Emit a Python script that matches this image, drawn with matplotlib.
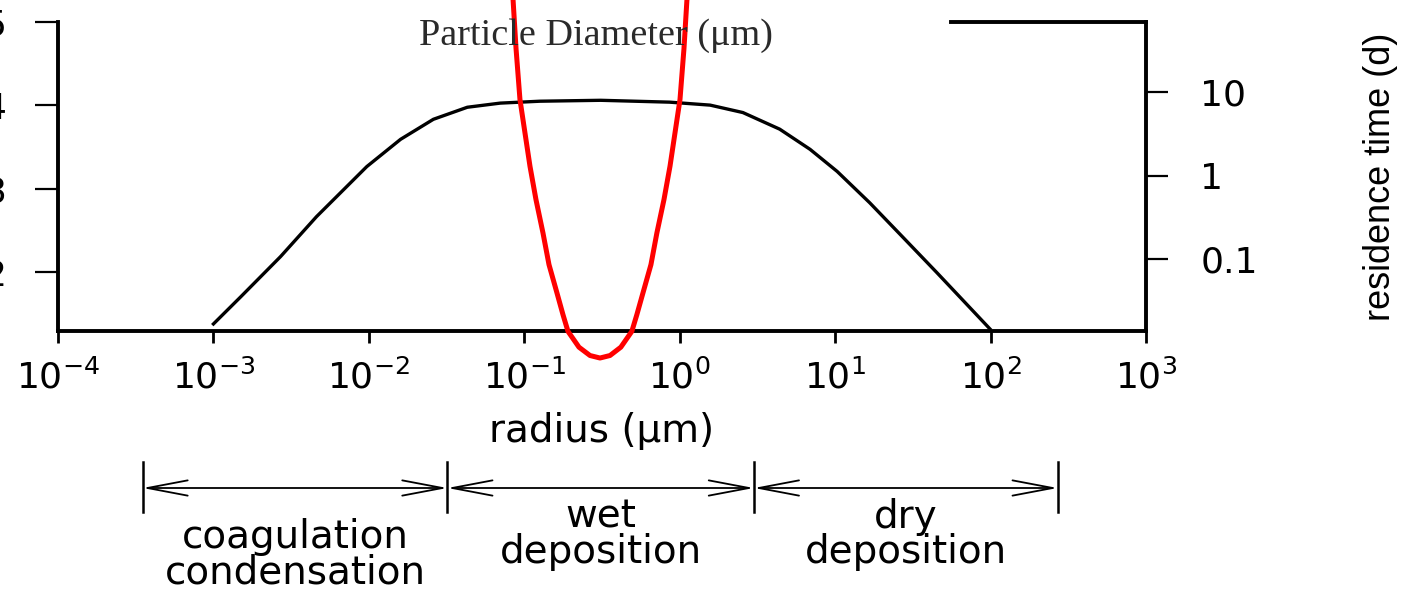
import matplotlib.pyplot as plt
import numpy as np
from matplotlib.ticker import NullLocator, FixedLocator, FixedFormatter
from matplotlib.transforms import blended_transform_factory

# residence time of aerosol particles (right axis, days)
radius_um = [1.0e-3, 1.5e-3, 2.7e-3, 4.6e-3, 9.7e-3, 1.6e-2, 2.6e-2, 4.3e-2, 7.0e-2,
             0.126, 0.31, 0.86, 1.57, 2.55, 4.4, 6.9, 10.3, 16.7, 27.4, 45.2, 99.0]
residence_days = [0.0165, 0.035, 0.106, 0.32, 1.28, 2.72, 4.73, 6.6, 7.4,
                  7.8, 8.0, 7.6, 7.0, 5.7, 3.6, 2.06, 1.12, 0.47, 0.18, 0.068, 0.0144]

# red curve (left axis)
red_radius = [0.0846, 0.0885, 0.0938, 0.1088, 0.1189, 0.1319, 0.1442, 0.1623, 0.1774,
              0.191, 0.2248, 0.2647, 0.307, 0.356, 0.418, 0.492, 0.530, 0.580,
              0.653, 0.713, 0.792, 0.866, 1.004, 1.065, 1.114]
red_value = [5.28, 4.68, 4.07, 3.27, 2.87, 2.47, 2.09, 1.75, 1.49,
             1.29, 1.10, 1.00, 0.97, 1.00, 1.10, 1.29, 1.49, 1.75,
             2.09, 2.47, 2.87, 3.27, 4.07, 4.68, 5.28]

# process ranges below the axis
range_bounds = [3.5e-4, 3.2e-2, 3.0, 2.7e2]
range_labels = [("coagulation", "condensation"), ("wet", "deposition"), ("dry", "deposition")]

left_ticks = [2, 3, 4, 5]
right_ticks = [0.1, 1, 10]
right_ticklabels = ["0.1", "1", "10"]

plt.rcParams['font.family'] = ['DejaVu Sans']

fig = plt.figure(figsize=(14.08, 5.89), dpi=100)
ax = fig.add_axes([58 / 1408, 258 / 589, 1088 / 1408, 309 / 589])
ax2 = ax.twinx()

# left axis (linear) with the red curve
ax.set_xscale('log')
ax.set_xlim(1e-4, 1e3)
ax.set_ylim(1.294, 5.0)
ax.plot(red_radius, red_value, color='#ff0000', lw=3.6, clip_on=False, zorder=5,
        solid_joinstyle='round')

# right axis (log) with residence time
ax2.set_yscale('log')
ax2.set_ylim(0.01358, 69.7)
ax2.plot(radius_um, residence_days, color='black', lw=2.4, clip_on=False,
         solid_joinstyle='round')

# red curve drawn over the black one
ax.set_zorder(ax2.get_zorder() + 1)
ax.patch.set_visible(False)

# spines
for s in ['left', 'bottom', 'top']:
    ax.spines[s].set_linewidth(2.8)
ax.spines['right'].set_visible(False)
ax.spines['top'].set_bounds(56, 1000)
for s in ['left', 'bottom', 'top']:
    ax2.spines[s].set_visible(False)
ax2.spines['right'].set_linewidth(2.8)

# x ticks
ax.xaxis.set_major_locator(FixedLocator([10.0 ** k for k in range(-4, 4)]))
ax.xaxis.set_minor_locator(NullLocator())
ax.tick_params(axis='x', direction='out', length=8.5, width=2.0, pad=12, labelsize=26)

# left ticks
ax.set_yticks(left_ticks)
ax.tick_params(axis='y', direction='out', length=16.5, width=1.6, pad=21, labelsize=26)

# right ticks
ax2.yaxis.set_major_locator(FixedLocator(right_ticks))
ax2.yaxis.set_major_formatter(FixedFormatter(right_ticklabels))
ax2.yaxis.set_minor_locator(NullLocator())
ax2.tick_params(axis='y', direction='out', length=16, width=1.6, pad=23, labelsize=26)

ax.set_xlabel('radius (\u03bcm)', fontsize=28)
ax.xaxis.set_label_coords(0.5, -0.262)

fig.text(1381 / 1408, 1 - 177 / 589, 'residence time (d)', rotation=90,
         ha='center', va='center', fontsize=26, family=['Liberation Sans'])

fig.text(596 / 1408, 1 - 45 / 589, 'Particle Diameter (\u03bcm)', ha='center',
         va='baseline', fontsize=27.5, family=['Liberation Serif'], color='#2a2a2a')

# range arrows and labels
tr = blended_transform_factory(ax.transData, fig.transFigure)
y_line = 1 - 488 / 589
for b in range_bounds:
    ax.plot([b, b], [1 - 462 / 589, 1 - 512 / 589], color='black', lw=1.8,
            transform=tr, clip_on=False)
for i in range(len(range_bounds) - 1):
    ax.annotate('', xy=(range_bounds[i + 1], y_line), xycoords=tr,
                xytext=(range_bounds[i], y_line), textcoords=tr,
                arrowprops=dict(arrowstyle='<->,head_length=29,head_width=5.5',
                                mutation_scale=1, lw=1.3, color='black',
                                shrinkA=0, shrinkB=0))
    xc = np.sqrt(range_bounds[i] * range_bounds[i + 1])
    top, bottom = range_labels[i]
    y0 = 548 if i == 0 else 528
    ax.text(xc, 1 - y0 / 589, top, transform=tr, ha='center', va='baseline', fontsize=28)
    ax.text(xc, 1 - (y0 + 35) / 589, bottom, transform=tr, ha='center', va='baseline', fontsize=28)

fig.savefig('out.png', dpi=100)
